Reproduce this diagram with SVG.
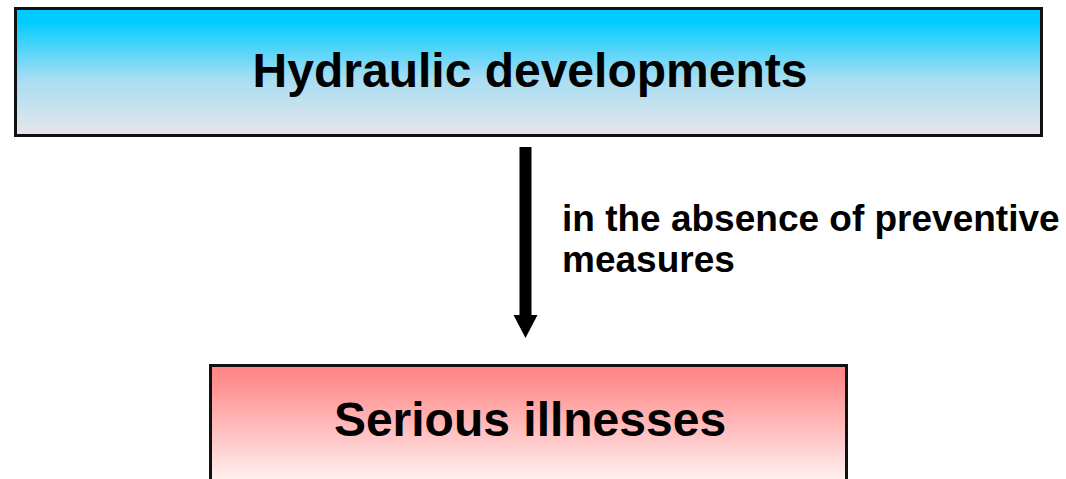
<svg xmlns="http://www.w3.org/2000/svg" width="1066" height="479" viewBox="0 0 1066 479">
  <style>
    .box { stroke: #111111; stroke-width: 3; }
    .title { font-family: "Liberation Sans", Arial, sans-serif; font-weight: bold; font-size: 48px; fill: #000000; text-anchor: middle; }
    .label { font-family: "Liberation Sans", Arial, sans-serif; font-weight: bold; font-size: 37px; fill: #000000; }
  </style>
  <defs>
    <linearGradient id="gradBlue" x1="0" y1="0" x2="0" y2="1">
      <stop offset="0" stop-color="#00CCFF"/>
      <stop offset="0.1" stop-color="#00CCFF"/>
      <stop offset="0.55" stop-color="#A6DDF3"/>
      <stop offset="1" stop-color="#E8E6EA"/>
    </linearGradient>
    <linearGradient id="gradRed" x1="0" y1="0" x2="0" y2="1">
      <stop offset="0" stop-color="#FF8585"/>
      <stop offset="0.1" stop-color="#FF8C8C"/>
      <stop offset="1" stop-color="#FFFFFF"/>
    </linearGradient>
  </defs>

  <!-- top node -->
  <g id="node-hydraulic">
    <rect class="box" x="15.5" y="8.5" width="1026" height="127" fill="url(#gradBlue)"/>
    <text class="title" x="530" y="87">Hydraulic developments</text>
  </g>

  <!-- bottom node -->
  <g id="node-illnesses">
    <rect class="box" x="210.5" y="365.5" width="636" height="130" fill="url(#gradRed)"/>
    <text class="title" x="530" y="436">Serious illnesses</text>
  </g>

  <!-- connectors -->
  <g id="connectors">
    <rect x="519.5" y="147" width="12" height="169" fill="#000000"/>
    <path d="M513.5,315 L537.5,315 L525.5,338 Z" fill="#000000"/>
    <text class="label" x="562" y="231">in the absence of preventive</text>
    <text class="label" x="562" y="272">measures</text>
  </g>
</svg>
